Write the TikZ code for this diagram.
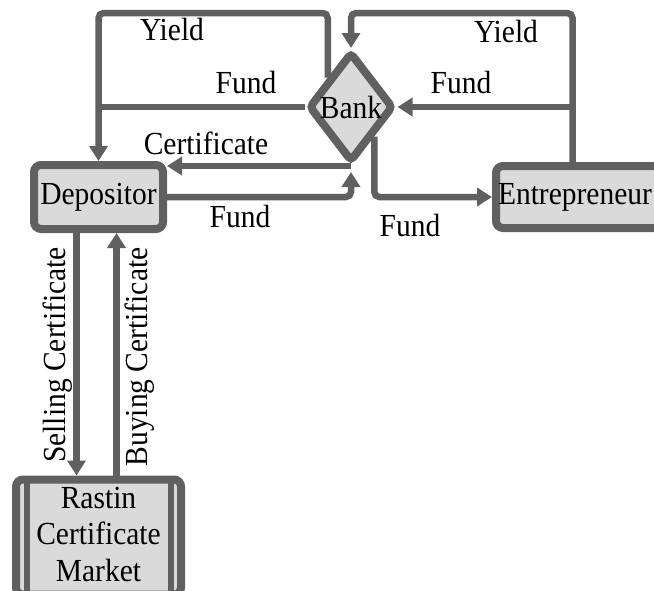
\documentclass[tikz,border=0pt]{standalone}
\usepackage{graphicx}
\usepackage{fontspec}
\setmainfont{Liberation Serif}
\usetikzlibrary{arrows.meta,shapes.geometric}
\definecolor{lineGray}{RGB}{96,96,96}
\definecolor{boxGray}{RGB}{218,218,218}
\tikzstyle{Arrow}=[-{Triangle[width=18pt,length=15pt]}]
\newcommand{\tallText}[1]{\scalebox{1}[1.09]{#1}}

\begin{document}
\begin{tikzpicture}[
  x=1pt, y=-1pt,
  Flow/.style={draw=lineGray, line width=6.5pt, rounded corners=5pt},
  Box/.style={draw=lineGray, line width=8pt, fill=boxGray, rounded corners=7pt, inner sep=0,
    font=\fontsize{29.5}{35}\selectfont, align=center},
  Label/.style={font=\fontsize{29.5}{35}\selectfont, inner sep=0}
]
\clip (0,0) rectangle (654,590);

\node[Box, diamond, aspect=0.78, minimum width=85pt, minimum height=110pt, rounded corners=4pt] (bank) at (351,107) {\tallText{Bank}};
\node[Box, minimum width=129pt, minimum height=64pt] (dep) at (98.5,197) {\tallText{Depositor}};
\node[Box, anchor=west, text width=165pt, align=left, inner xsep=2pt, minimum height=62pt] (ent) at (492,197) {\tallText{Entrepreneur}};
\node[Box, minimum width=165pt, minimum height=115pt] (mkt) at (98.5,537)
  {\tallText{\begin{tabular}{@{}c@{}}Rastin\\[-1.5pt]Certificate\\[-1.5pt]Market\end{tabular}}};
\draw[lineGray, line width=6pt] ([xshift=14.5pt]mkt.north west) -- ([xshift=14.5pt]mkt.south west);
\draw[lineGray, line width=6pt] ([xshift=-14.5pt]mkt.north east) -- ([xshift=-14.5pt]mkt.south east);

\coordinate (top) at (0,13);
\coordinate (entUp) at ([xshift=-8pt]ent.north);

% bank <-> depositor
\draw[Flow, Arrow] (bank.north west) |- (dep.north |- top) -- (dep.north);
\draw[Flow] (bank.west) -- (dep.north |- bank.west);
\draw[Flow, Arrow] (bank.south) -- (dep.east |- bank.south);
\draw[Flow, Arrow] (dep.east) -| ([yshift=-6pt]bank.south);

% bank <-> entrepreneur
\draw[Flow, Arrow] (entUp) |- (bank.north |- top) -- (bank.north);
\draw[Flow, Arrow] (entUp |- bank.east) -- (bank.east);
\draw[Flow, Arrow] (bank.south east) |- (ent.west);

% depositor <-> market
\draw[Flow, Arrow] ([xshift=-22pt]dep.south) -- ([xshift=-22pt]dep.south |- mkt.north);
\draw[Flow, Arrow] ([xshift=18pt]mkt.north) -- ([xshift=18pt]mkt.north |- dep.south);

\node[Label] (yieldL) at (172,29) {\tallText{Yield}};
\node[Label] (yieldR) at (506,31) {\tallText{Yield}};
\node[Label] (fundL) at (246,82) {\tallText{Fund}};
\node[Label] (fundR) at (461,82) {\tallText{Fund}};
\node[Label] (cert) at (206,143) {\tallText{Certificate}};
\node[Label] (fundD) at (240,216) {\tallText{Fund}};
\node[Label] (fundE) at (410,225) {\tallText{Fund}};
\node[Label, rotate=90] (sell) at (57.5,355) {\tallText{Selling Certificate}};
\node[Label, rotate=90] (buy) at (140,357) {\tallText{Buying Certificate}};

\end{tikzpicture}
\end{document}
